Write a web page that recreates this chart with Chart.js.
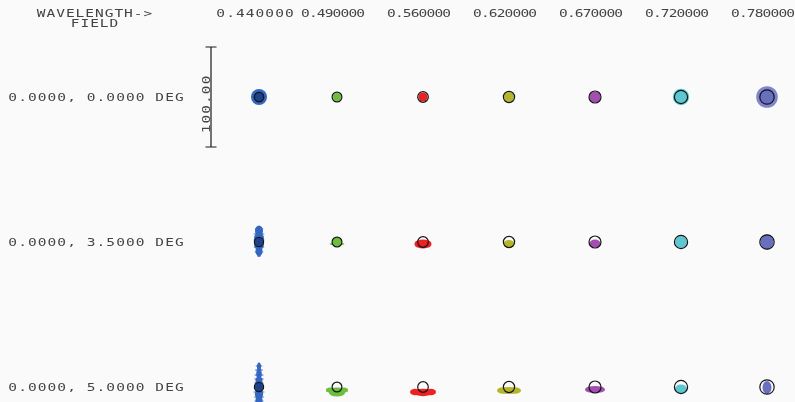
<!DOCTYPE html>
<html>
<head>
<meta charset="utf-8">
<script src="https://cdn.jsdelivr.net/npm/chart.js@4.4.0/dist/chart.umd.min.js"></script>
<style>
  html, body { margin: 0; padding: 0; background: #fafafa; }
  canvas { display: block; }
</style>
</head>
<body>
<canvas id="spots" width="795" height="402"></canvas>
<script>
// Wavelengths (µm) across the top, field angles down the side
const wavelengths = ['0.440000', '0.490000', '0.560000', '0.620000', '0.670000', '0.720000', '0.780000'];
const fields = ['0.0000, 0.0000 DEG', '0.0000, 3.5000 DEG', '0.0000, 5.0000 DEG'];

// Airy disk radius for each wavelength (µm)
const airyRadius = [4.6, 4.9, 5.3, 5.6, 6.0, 6.6, 7.2];

// Scale bar length (µm)
const scaleBar = 100;

// Ray footprint of each spot: [dx, dy, rx, ry] in µm about the chief ray
const spotField0 = [
  [[0, 0, 8, 8]],
  [[0, 0, 4, 4]],
  [[0, 0, 4.5, 4.5]],
  [[0, 0, 5, 5]],
  [[0, 0, 5.5, 5.5]],
  [[0, 0, 8.2, 8.2]],
  [[0, 0, 10.8, 10.8]]
];
const spotField1 = [
  [[0, -11, 4, 5.5], [0, -4, 5, 5], [0, 3, 4.8, 5], [0, 9, 3.5, 4.5], [0, 12.5, 2, 2.5],
   [0, -13, 4.5, 0.8], [0, -8, 5.6, 0.8], [0, -2, 5.8, 0.8], [0, 5, 5.5, 0.8], [0, 10, 4.5, 0.8]],
  [[0, 0, 4.5, 4.5], [0, 2, 7.5, 1.5]],
  [[-4, 2, 4.5, 3.8], [0, 2, 6.5, 4.5], [4, 2, 4.5, 3.8]],
  [[0, 2, 5.5, 4]],
  [[0, 1.5, 5.5, 4]],
  [[0, 0, 6, 6]],
  []
];
const spotField2 = [
  [[0, -20, 2, 4.5], [0, -13, 2.8, 4.5], [0, -6, 3.5, 4.5], [0, 0, 5, 4.5], [0, 7, 4.2, 4.5], [0, 13, 3.5, 4.5],
   [0, -21, 3.5, 0.7], [0, -17, 4.2, 0.7], [0, -12, 4.8, 0.7], [0, -8, 5, 0.7], [0, -4, 5, 0.7],
   [0, 5, 5.8, 0.7], [0, 10, 5.2, 0.7], [0, 14, 4.8, 0.7]],
  [[0, 3.5, 11, 3], [0, 6, 8, 3.5], [-7, 3, 4, 2.5], [7, 3, 4, 2.5]],
  [[-8, 5, 5, 3.2], [0, 5.5, 10, 3.7], [8, 5, 5, 3.2]],
  [[-6, 3.5, 6, 3.2], [0, 3.5, 9, 3.5], [6, 3.5, 6, 3.2]],
  [[-5, 2.5, 5, 3], [0, 2.5, 8, 3.5], [5, 2.5, 5, 3]],
  [[0, 2, 6, 4.5]],
  []
];

// Dense ray cores: [field, wavelength, dx, dy, rx, ry] in µm
const denseCores = [
  [0, 0, 0, 0, 5.5, 5.5],
  [1, 0, 0, 0, 4, 4],
  [2, 0, 0, 0, 4, 4.5],
  [0, 6, 0, 0, 7.8, 7.8],
  [1, 6, 0, 0, 6.5, 7.5],
  [2, 6, 0, 0.5, 4.5, 6.5]
];

// ---- layout & styling ----
const spotColors  = ['#3467c2', '#6cbf3e', '#ec2222', '#b5b52c', '#a24fb0', '#5ec8d2', '#7f87cc'];
const denseColors = ['#1f4189', '#5aa832', '#d81818', '#a0a022', '#8c3f9a', '#48b4be', '#6870bd'];
const colX = [259, 337, 423, 509, 595, 681, 767];
const rowY = [97, 242, 387];
const textColor = '#444444';

const spotSets = [spotField0, spotField1, spotField2];

const datasets = wavelengths.map((wl, w) => {
  const data = [];
  spotSets.forEach((set, f) => {
    set[w].forEach(b => data.push({ x: colX[w] + b[0], y: rowY[f] + b[1], rx: b[2], ry: b[3] }));
  });
  return { label: wl, data, blob: true, color: spotColors[w], pointRadius: 0 };
});

datasets.push({
  label: 'cores',
  blob: true,
  data: denseCores.map(c => ({ x: colX[c[1]] + c[2], y: rowY[c[0]] + c[3], rx: c[4], ry: c[5], w: c[1] })),
  pointRadius: 0
});

const airyData = [];
fields.forEach((fl, f) => wavelengths.forEach((wl, w) => airyData.push({ x: colX[w], y: rowY[f], r: airyRadius[w] })));

function pxPerMicron(chart) {
  const s = chart.scales.x;
  return Math.abs(s.getPixelForValue(1) - s.getPixelForValue(0));
}

datasets.push({
  label: 'Airy',
  data: airyData,
  pointStyle: 'circle',
  backgroundColor: 'rgba(0,0,0,0)',
  borderColor: '#151515',
  borderWidth: 1.2,
  pointRadius: ctx => (ctx.raw ? ctx.raw.r * pxPerMicron(ctx.chart) : 0),
  pointHoverRadius: ctx => (ctx.raw ? ctx.raw.r * pxPerMicron(ctx.chart) : 0)
});

// Monospaced, horizontally widened lettering on a fixed character pitch
function drawSpaced(ctx, text, cx, baseline, advance) {
  const start = cx - (text.length * advance) / 2;
  for (let i = 0; i < text.length; i++) {
    ctx.save();
    ctx.translate(start + i * advance + advance / 2, baseline);
    ctx.scale(1.45, 1);
    ctx.fillText(text[i], 0, 0);
    ctx.restore();
  }
}

const spotPlugin = {
  id: 'spotBlobs',
  beforeDatasetsDraw(chart) {
    const ctx = chart.ctx;
    const k = pxPerMicron(chart);
    chart.data.datasets.forEach((ds, i) => {
      if (!ds.blob) return;
      const meta = chart.getDatasetMeta(i);
      meta.data.forEach((pt, j) => {
        const d = ds.data[j];
        ctx.fillStyle = d.w !== undefined ? denseColors[d.w] : ds.color;
        ctx.beginPath();
        ctx.ellipse(pt.x, pt.y, d.rx * k, d.ry * k, 0, 0, Math.PI * 2);
        ctx.fill();
      });
    });
  },
  afterDatasetsDraw(chart) {
    const ctx = chart.ctx;
    const xs = chart.scales.x, ys = chart.scales.y;
    ctx.save();
    ctx.fillStyle = textColor;
    ctx.font = '10px "DejaVu Sans Mono"';
    ctx.textAlign = 'center';
    ctx.textBaseline = 'alphabetic';

    drawSpaced(ctx, 'WAVELENGTH->', 94.5, 17, 9.7);
    drawSpaced(ctx, 'FIELD', 94.5, 27, 9.7);

    wavelengths.forEach((wl, w) => {
      drawSpaced(ctx, wl, xs.getPixelForValue(colX[w]) - 4, 17, w === 0 ? 9.8 : 7.9);
    });
    fields.forEach((fl, f) => {
      drawSpaced(ctx, fl, 96, ys.getPixelForValue(rowY[f]) + 4, 9.8);
    });

    // scale bar
    const bx = xs.getPixelForValue(211);
    const yTop = ys.getPixelForValue(rowY[0] - scaleBar / 2);
    const yBot = ys.getPixelForValue(rowY[0] + scaleBar / 2);
    ctx.strokeStyle = '#1a1a1a';
    ctx.lineWidth = 1.2;
    ctx.beginPath();
    ctx.moveTo(bx, yTop); ctx.lineTo(bx, yBot);
    ctx.moveTo(bx - 5.5, yTop); ctx.lineTo(bx + 5.5, yTop);
    ctx.moveTo(bx - 5.5, yBot); ctx.lineTo(bx + 5.5, yBot);
    ctx.stroke();

    ctx.save();
    ctx.translate(bx - 1.5, (yTop + yBot) / 2 + 7.5);
    ctx.rotate(-Math.PI / 2);
    drawSpaced(ctx, scaleBar.toFixed(2), 0, 0, 9.8);
    ctx.restore();
    ctx.restore();
  }
};

new Chart(document.getElementById('spots'), {
  type: 'scatter',
  data: { datasets },
  options: {
    responsive: false,
    animation: false,
    events: [],
    layout: { padding: 0 },
    plugins: { legend: { display: false }, tooltip: { enabled: false } },
    scales: {
      x: { type: 'linear', min: 0, max: 795, display: false },
      y: { type: 'linear', min: 0, max: 402, reverse: true, display: false }
    }
  },
  plugins: [spotPlugin]
});
</script>
</body>
</html>
